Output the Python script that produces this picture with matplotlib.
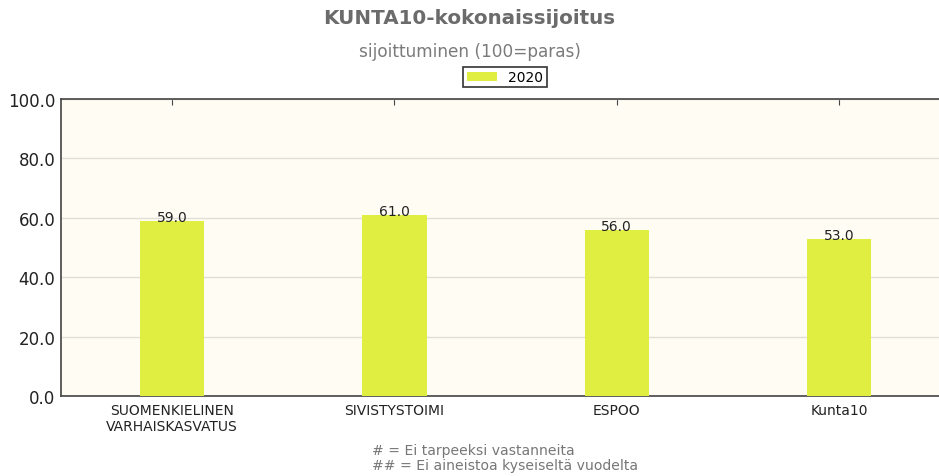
import matplotlib
matplotlib.use("Agg")
import matplotlib.pyplot as plt
import numpy as np

plt.rcParams["font.family"] = ["DejaVu Sans"]

categories = ["SUOMENKIELINEN\nVARHAISKASVATUS", "SIVISTYSTOIMI", "ESPOO", "Kunta10"]
values_2020 = [59.0, 61.0, 56.0, 53.0]
series_label = "2020"
yticks = [0, 20, 40, 60, 80, 100]

fig = plt.figure(figsize=(9.39, 4.77), dpi=100)
ax = fig.add_axes([61/939, 1-397/477, 1.0 - 61/939 + 0.012, (397-100)/477])
ax.set_facecolor("#fffcf4")

x = np.arange(len(categories))
bars = ax.bar(x, values_2020, width=0.29, color="#dfee40", label=series_label, zorder=3)
for xi, v in zip(x, values_2020):
    ax.text(xi, v - 1.0, f"{v:.1f}", ha="center", va="bottom", fontsize=10, color="#222222", zorder=4)

ax.set_xlim(-0.5, 3.5)
ax.set_ylim(0, 100)
ax.set_yticks(yticks)
ax.set_yticklabels([f"{t:.1f}" for t in yticks], fontsize=12, color="#222222")
ax.set_xticks(x)
ax.set_xticklabels(categories, fontsize=10, color="#222222")
ax.yaxis.grid(True, color="#e2ded6", linewidth=1, zorder=0)
ax.tick_params(axis="y", length=0, pad=4)
ax.tick_params(axis="x", direction="in", length=4, top=True, bottom=False, labelbottom=True, pad=5, color="#444444")
for s in ["left", "bottom", "top"]:
    ax.spines[s].set_color("#444444")
    ax.spines[s].set_linewidth(1.2)
ax.spines["right"].set_visible(False)

fig.text(0.5, 1-18/477, "KUNTA10-kokonaissijoitus", ha="center", va="center",
         fontsize=14.3, fontweight="bold", color="#6b6b6b")
fig.text(0.5, 1-52/477, "sijoittuminen (100=paras)", ha="center", va="center",
         fontsize=12.2, color="#7a7a7a")
leg = fig.legend(handles=[bars], labels=[series_label], loc="center",
                 bbox_to_anchor=(505/939, 1-78/477), fontsize=10, frameon=True,
                 fancybox=False, edgecolor="black", handlelength=2.2, handleheight=0.6,
                 borderpad=0.25, borderaxespad=0)
leg.get_frame().set_linewidth(1.2)

fig.text(372/939, 1-451/477, "# = Ei tarpeeksi vastanneita", ha="left", va="center",
         fontsize=10.1, color="#777777")
fig.text(372/939, 1-466/477, "## = Ei aineistoa kyseiseltä vuodelta", ha="left", va="center",
         fontsize=10.1, color="#777777")

fig.savefig("out.png", dpi=100)
